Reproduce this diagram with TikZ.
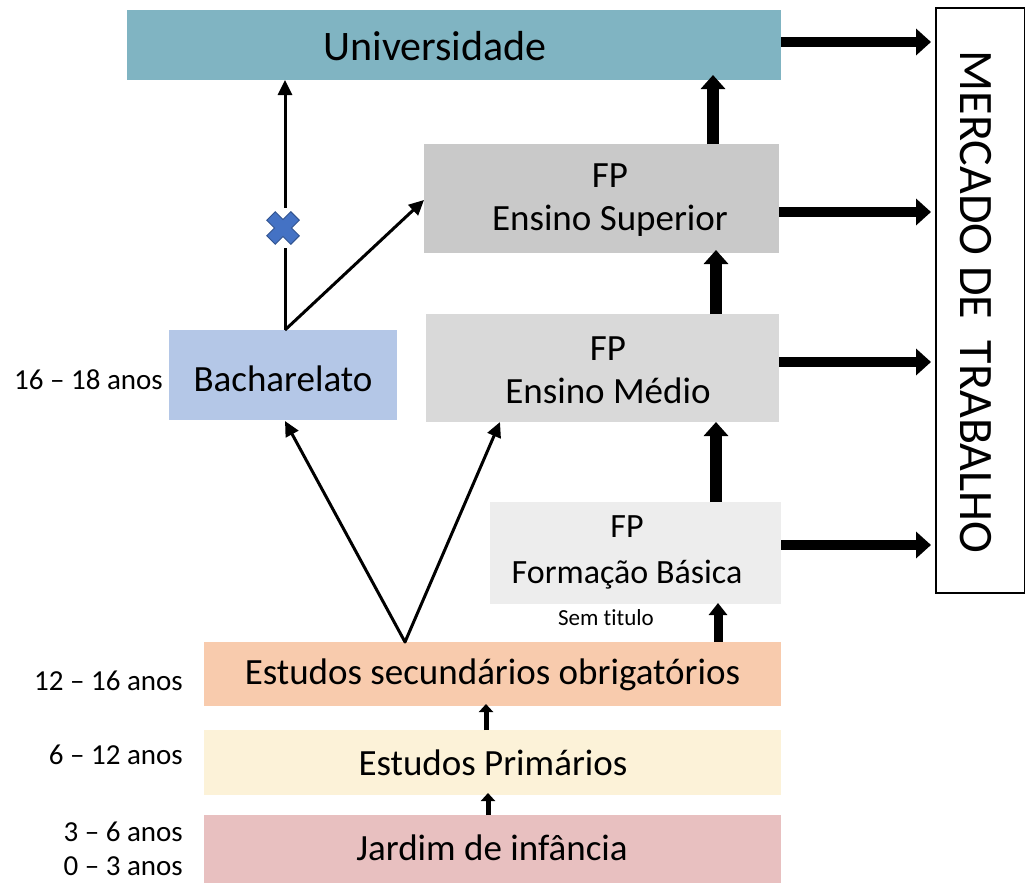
\documentclass[tikz,border=0pt]{standalone}
\usepackage{fontspec}
\setmainfont[Ligatures=NoCommon]{Carlito}
\usetikzlibrary{arrows.meta}
\definecolor{cUni}{RGB}{128,180,194}
\definecolor{cSup}{RGB}{201,201,201}
\definecolor{cMed}{RGB}{217,217,217}
\definecolor{cBas}{RGB}{237,237,237}
\definecolor{cBach}{RGB}{180,199,231}
\definecolor{cSec}{RGB}{248,203,173}
\definecolor{cPri}{RGB}{252,242,216}
\definecolor{cJar}{RGB}{232,192,192}
\definecolor{cX}{RGB}{68,114,196}
\definecolor{cXd}{RGB}{47,82,143}
\tikzset{
  box/.style={inner sep=0pt, align=center, font=\fontsize{37}{43}\selectfont},
  age/.style={inner sep=0pt, anchor=east, font=\fontsize{29}{34}\selectfont},
  thin/.style={line width=3pt, -{Triangle[length=15pt,width=14pt]}},
  fat/.style={line width=10pt, -{Triangle[length=15pt,width=26pt]}},
  upfat/.style={line width=12pt, -{Triangle[length=14pt,width=24pt]}},
  upsmall/.style={line width=5pt, -{Triangle[length=8pt,width=14pt]}},
}
\begin{document}
\begin{tikzpicture}[x=1pt,y=-1pt]
\useasboundingbox (0,0) rectangle (1025,883);
% boxes
\fill[cUni] (127,10) rectangle (781,80);
\node[box, font=\fontsize{42}{48}\selectfont] (uni) at (435,46) {Universidade};
\coordinate (uniBL) at (285,80);
\fill[cSup] (424,144) rectangle (779,253);
\node[box] (sup) at (610,200) {FP\\Ensino Superior};
\fill[cMed] (426,314) rectangle (779,422);
\node[box] (med) at (608,370) {FP\\Ensino Médio};
\fill[cBas] (490,502) rectangle (781,604);
\node[box, font=\fontsize{34}{46}\selectfont] (bas) at (627,552) {FP\\Formação Básica};
\fill[cBach] (169,330) rectangle (397,420);
\node[box] (bach) at (283,379) {Bacharelato};
\fill[cSec] (204,642) rectangle (781,706);
\node[box] (sec) at (492.5,675) {Estudos secundários obrigatórios};
\fill[cPri] (204,730) rectangle (781,795);
\node[box] (pri) at (493,763) {Estudos Primários};
\fill[cJar] (204,815) rectangle (781,883);
\node[box] (jar) at (492,848) {Jardim de infância};
\draw[line width=1.5pt] (936,8) rectangle (1025,593);
\node[inner sep=0pt, rotate=-90, font=\fontsize{48}{54}\selectfont] (merc) at (976,302) {MERCADO DE\ \ TRABALHO};
% labels
\node[age] (a1) at (163,380) {16 – 18 anos};
\node[age] (a2) at (183,681) {12 – 16 anos};
\node[age] (a3) at (183,755) {6 – 12 anos};
\node[age] (a4) at (183,832) {3 – 6 anos};
\node[age] (a5) at (183,866) {0 – 3 anos};
\node[inner sep=0pt, font=\fontsize{23}{27}\selectfont] (sem) at (606,618) {Sem titulo};
% coordinates
\coordinate (secTop) at (405,642);
\coordinate (bachTop) at (285,330);
\coordinate (bachBot) at (285,421);
\coordinate (medBL) at (500,422);
\coordinate (supL) at (424,200);
\coordinate (mercL1) at (931,42);
\coordinate (mercL2) at (931,212);
\coordinate (mercL3) at (931,362);
\coordinate (mercL4) at (931,545);
% thin arrows
\draw[thin, line cap=round] (secTop) -- (bachBot);
\draw[thin, line cap=round] (secTop) -- (medBL);
\draw[thin] (bachTop) -- (uniBL);
\draw[thin] (bachTop) -- (supL);
% X mark
\node[inner sep=0pt, minimum size=0pt] (xm) at (283,228) {};
\fill[white] (270,208) rectangle (296,248);
\draw[cXd, line width=1pt, fill=cX, rotate around={45:(283,228)}]
  (277,211) -- (289,211) -- (289,222) -- (300,222) -- (300,234) -- (289,234) -- (289,245) -- (277,245) -- (277,234) -- (266,234) -- (266,222) -- (277,222) -- cycle;
% fat right arrows
\draw[fat] (781,42) -- (mercL1);
\draw[fat] (779,212) -- (mercL2);
\draw[fat] (779,362) -- (mercL3);
\draw[fat] (781,545) -- (mercL4);
% fat up arrows
\draw[upfat] (713,144) -- (713,75);
\draw[upfat] (716,314) -- (716,250);
\draw[upfat] (716,502) -- (716,422);
\draw[line width=9pt, -{Triangle[length=12pt,width=18pt]}] (718,642) -- (718,603);
\draw[upsmall] (486,730) -- (486,704);
\draw[upsmall] (488,815) -- (488,793);
\end{tikzpicture}
\end{document}
